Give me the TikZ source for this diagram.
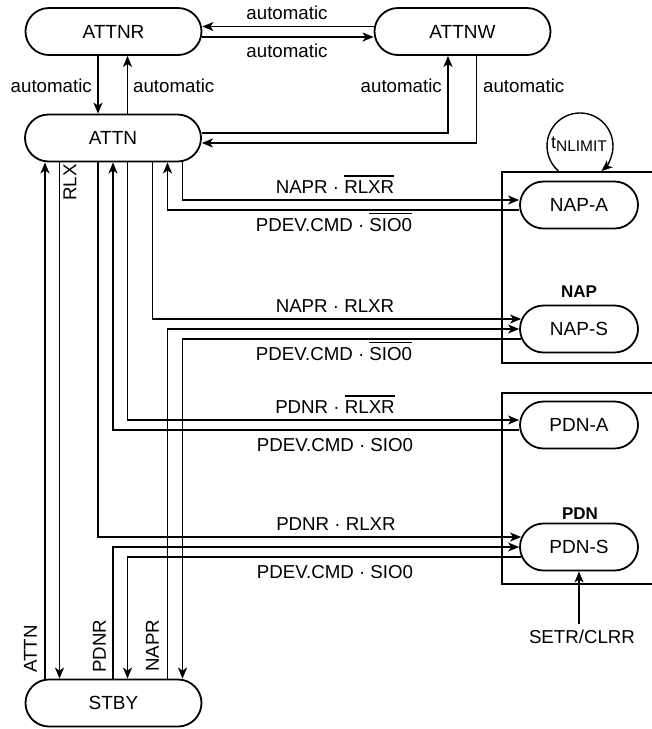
\documentclass[tikz,border=0pt]{standalone}
\usepackage{fontspec}
\setmainfont{Liberation Sans}
\usetikzlibrary{arrows.meta,calc}
\newcommand\ovl[1]{\leavevmode\vbox{\hrule height 1.8pt\kern 3.5pt\hbox{#1}}}
\begin{document}
\begin{tikzpicture}[x=1pt,y=-1pt,
  st/.style={draw,line width=1.8pt,rounded corners=23.5pt,minimum width=176pt,minimum height=47pt,inner sep=0pt,font=\fontsize{19}{22}\selectfont},
  sst/.style={st,minimum width=118pt},
  con/.style={line width=1.4pt},
  arr/.style={con,-{Stealth[length=11pt,width=9pt,inset=3pt]}},
  lbl/.style={inner sep=0pt,font=\fontsize{18.7}{22}\selectfont},
  blbl/.style={inner sep=0pt,font=\fontsize{17}{20}\selectfont\bfseries},
  bx/.style={draw,line width=1.6pt,anchor=north west,inner sep=0pt,minimum width=190pt,minimum height=191pt},
]
\useasboundingbox (0,0) rectangle (652,729);
\clip (0,0) rectangle (652,729);

% containers
\node[bx] (napbox) at (501,171) {};
\node[bx] (pdnbox) at (501,392) {};

% states
\node[st] (ATTNR) at (113.5,31.5) {ATTNR};
\node[st] (ATTNW) at (462.5,31.5) {ATTNW};
\node[st] (ATTN) at (113,138) {ATTN};
\node[st] (STBY) at (113.5,703) {STBY};
\node[sst] (NAPA) at (579,205) {NAP-A};
\node[sst] (NAPS) at (579,329) {NAP-S};
\node[sst] (PDNA) at (579,425) {PDN-A};
\node[sst] (PDNS) at (579,547) {PDN-S};

\node[blbl] (naplbl) at (579,292) {NAP};
\node[blbl] (pdnlbl) at (580,513.5) {PDN};

% column helpers
\foreach \n/\x in {a/45,b/59.5,c/98,d/113,e/127.5,f/152.5,g/167.5,h/182.5,i/448,j/476.5,k/558.5}
  \coordinate (x\n) at (\x,0);

% top transitions
\draw[arr] ($(ATTNW.west)+(0,-5)$) -- ($(ATTNR.east)+(0,-5)$);
\draw[arr] ($(ATTNR.east)+(0,5.5)$) -- ($(ATTNW.west)+(0,5.5)$);
\draw[arr] (ATTNR.south -| xc) -- (ATTN.north -| xc);
\draw[arr] (ATTN.north -| xe) -- (ATTNR.south -| xe);
\draw[arr] ($(ATTN.east)+(0,-5)$) -| (ATTNW.south -| xi);
\draw[arr] (ATTNW.south -| xj) |- ($(ATTN.east)+(0,5)$);

% ATTN <-> STBY
\draw[arr] (STBY.north -| xa) -- (ATTN.south -| xa);
\draw[arr] (ATTN.south -| xb) -- (STBY.north -| xb);

% NAP-A
\draw[arr] (ATTN.south -| xh) |- ($(NAPA.west)+(0,-5)$);
\draw[arr] ($(NAPA.west)+(0,5)$) -| (ATTN.south -| xg);
% NAP-S
\draw[arr] (ATTN.south -| xf) |- ($(NAPS.west)+(2,-10)$);
\draw[arr] (STBY.north -| xg) |- (NAPS.west);
\draw[arr] ($(NAPS.west)+(2,10)$) -| (STBY.north -| xh);
% PDN-A
\draw[arr] (ATTN.south -| xe) |- ($(PDNA.west)+(0,-5)$);
\draw[arr] ($(PDNA.west)+(0,5)$) -| (ATTN.south -| xd);
% PDN-S
\draw[arr] (ATTN.south -| xc) |- ($(PDNS.west)+(2,-10)$);
\draw[arr] (STBY.north -| xd) |- (PDNS.west);
\draw[arr] ($(PDNS.west)+(2,10)$) -| (STBY.north -| xe);

% self loop on NAP
\node[inner sep=0pt] (tn) at (579,144) {{\fontsize{18}{20}\selectfont t}\raisebox{-3.5pt}{\fontsize{15.5}{18}\selectfont NLIMIT}};
\draw[arr] (napbox.north -| xk) arc[start angle=130.7,end angle=409.3,radius=33];

% SETR/CLRR
\node[lbl,anchor=base] (setr) at (582,643) {SETR/CLRR};
\draw[arr] ($(setr.north -| PDNS.south)+(0,-5)$) -- (PDNS.south);

% labels
\node[lbl,anchor=base] (l1) at (287,19) {automatic};
\node[lbl,anchor=base] (l2) at (287,57) {automatic};
\node[lbl,anchor=base east] (l3) at (92,92) {automatic};
\node[lbl,anchor=base west] (l4) at (133,92) {automatic};
\node[lbl,anchor=base east] (l5) at (442,92) {automatic};
\node[lbl,anchor=base west] (l6) at (483,92) {automatic};

\node[lbl,anchor=base] (m1) at (335,193) {NAPR · \ovl{RLXR}};
\node[lbl,anchor=base] (m2) at (334,231) {PDEV.CMD · \ovl{SIO0}};
\node[lbl,anchor=base] (m3) at (335,312) {NAPR · RLXR};
\node[lbl,anchor=base] (m4) at (334,360) {PDEV.CMD · \ovl{SIO0}};
\node[lbl,anchor=base] (m5) at (335,413) {PDNR · \ovl{RLXR}};
\node[lbl,anchor=base] (m6) at (335,451) {PDEV.CMD · SIO0};
\node[lbl,anchor=base] (m7) at (336,530) {PDNR · RLXR};
\node[lbl,anchor=base] (m8) at (335,578) {PDEV.CMD · SIO0};

\node[lbl,rotate=90,anchor=west] (rlx) at (70,201) {RLX};
\node[lbl,rotate=90,anchor=west] (vattn) at (30.5,673) {ATTN};
\node[lbl,rotate=90,anchor=west] (vpdnr) at (99.5,673) {PDNR};
\node[lbl,rotate=90,anchor=west] (vnapr) at (152.5,672) {NAPR};
\end{tikzpicture}
\end{document}
